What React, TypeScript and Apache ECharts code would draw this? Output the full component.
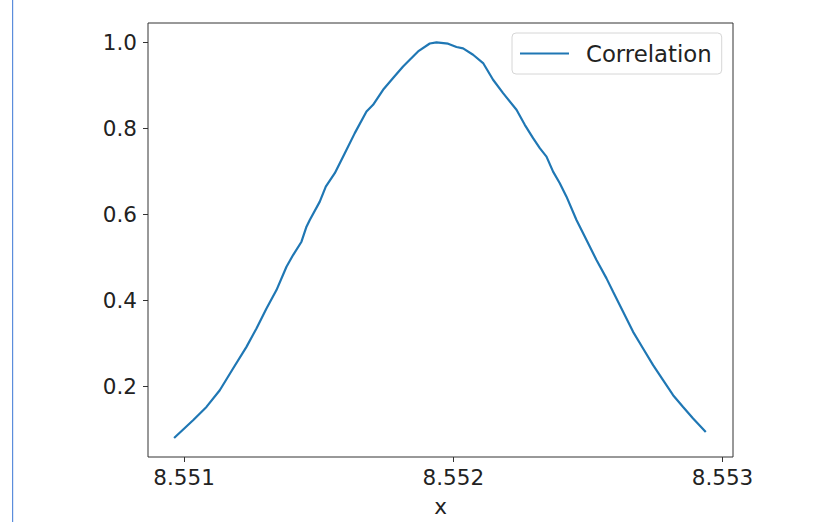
import React, { useEffect, useRef } from "react";
import * as echarts from "echarts";

const xValues: number[] = [
  8.5509629, 8.5510334, 8.5510832, 8.5511326, 8.551182, 8.5512318, 8.5512689, 8.5513061,
  8.5513432, 8.5513804, 8.5514049, 8.5514361, 8.5514547, 8.5514669, 8.5515041, 8.5515264,
  8.5515598, 8.551597, 8.5516341, 8.5516776, 8.5517021, 8.5517392, 8.5517764, 8.5518135,
  8.5518384, 8.5518692, 8.5519127, 8.5519376, 8.5519807, 8.5520119, 8.5520364, 8.5520735,
  8.5521107, 8.5521478, 8.552185, 8.5522348, 8.5522656, 8.5522964, 8.5523213, 8.5523462,
  8.5523707, 8.5523956, 8.5524205, 8.5524576, 8.5524948, 8.5525319, 8.5525691, 8.5525936,
  8.5526308, 8.5526679, 8.552705, 8.5527422, 8.5527793, 8.5528165, 8.5528536, 8.5528908,
  8.5529379,
];

const correlation: number[] = [
  0.0795, 0.1207, 0.1517, 0.1906, 0.2412, 0.2915, 0.3344, 0.381,
  0.4237, 0.478, 0.5052, 0.5362, 0.5712, 0.5868, 0.6295, 0.6644,
  0.6956, 0.7423, 0.7889, 0.8392, 0.8548, 0.8898, 0.917, 0.9441,
  0.9597, 0.979, 0.9975, 1.0, 0.997, 0.9893, 0.986, 0.9713,
  0.952, 0.9131, 0.8821, 0.8432, 0.8082, 0.7772, 0.7539, 0.7343,
  0.6994, 0.6723, 0.6411, 0.5868, 0.5402, 0.4936, 0.4509, 0.4197,
  0.3731, 0.3265, 0.2878, 0.2489, 0.2139, 0.179, 0.1517, 0.1247,
  0.0935,
];

const xTicks: number[] = [8.551, 8.552, 8.553];
const yTicks: number[] = [0.2, 0.4, 0.6, 0.8, 1.0];

export default function App() {
  const ref = useRef<HTMLDivElement>(null);
  useEffect(() => {
    if (!ref.current) return;
    const chart = echarts.init(ref.current, null, { renderer: "svg" });
    const font = "DejaVu Sans";
    const textColor = "#222";
    chart.setOption({
      animation: false,
      backgroundColor: "#fff",
      grid: {
        left: 148,
        top: 23,
        right: 85,
        bottom: 65,
        show: true,
        borderColor: "#333",
        borderWidth: 1,
        backgroundColor: "transparent",
      },
      legend: {
        show: true,
        left: 512,
        top: 33,
        orient: "horizontal",
        icon: "rect",
        itemWidth: 49,
        itemHeight: 2,
        padding: [9, 10, 9, 8],
        borderColor: "#d6d6d6",
        borderWidth: 1,
        borderRadius: 4,
        backgroundColor: "#fff",
        textStyle: {
          fontFamily: font,
          fontSize: 22.8,
          color: textColor,
          padding: [0, 0, 0, 12],
        },
        data: ["Correlation"],
      },
      xAxis: {
        type: "value",
        min: 8.550866,
        max: 8.553039,
        name: "x",
        nameLocation: "middle",
        nameGap: 38,
        nameTextStyle: { fontFamily: font, fontSize: 21.5, color: textColor },
        axisLine: { show: false },
        splitLine: { show: false },
        axisTick: {
          show: true,
          length: 5,
          customValues: xTicks,
          lineStyle: { color: "#333", width: 1 },
        },
        axisLabel: {
          customValues: xTicks,
          margin: 9,
          fontFamily: font,
          fontSize: 21.5,
          color: textColor,
          formatter: (v: number) => v.toFixed(3),
        },
      },
      yAxis: {
        type: "value",
        min: 0.0352,
        max: 1.0452,
        axisLine: { show: false },
        splitLine: { show: false },
        axisTick: {
          show: true,
          length: 5,
          customValues: yTicks,
          lineStyle: { color: "#333", width: 1 },
        },
        axisLabel: {
          customValues: yTicks,
          margin: 11,
          fontFamily: font,
          fontSize: 21.5,
          color: textColor,
          formatter: (v: number) => v.toFixed(1),
        },
      },
      graphic: [
        {
          type: "rect",
          shape: { x: 12, y: 0, width: 1.2, height: 522 },
          style: { fill: "#5b8ddc" },
          silent: true,
        },
      ],
      series: [
        {
          name: "Correlation",
          type: "line",
          data: xValues.map((x, i) => [x, correlation[i]]),
          showSymbol: false,
          symbol: "none",
          lineStyle: { color: "#1f77b4", width: 2.2 },
          itemStyle: { color: "#1f77b4" },
        },
      ],
    });
    return () => chart.dispose();
  }, []);
  return (
    <div
      ref={ref}
      style={{ position: "fixed", left: 0, top: 0, width: 818, height: 522 }}
    />
  );
}
